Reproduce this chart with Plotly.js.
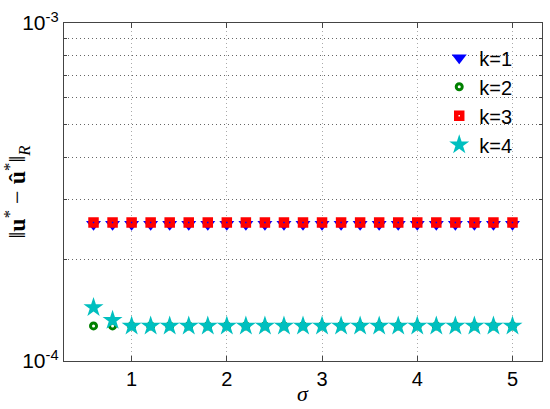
<!DOCTYPE html>
<html>
<head>
<meta charset="utf-8">
<script src="https://cdn.plot.ly/plotly-3.0.1.min.js"></script>
<style>html,body{margin:0;padding:0;background:#fff;}#chart{width:550px;height:409px;}</style>
</head>
<body>
<div id="chart"></div>
<script>
const sigma = [0.6, 0.8, 1.0, 1.2, 1.4, 1.6, 1.8, 2.0, 2.2, 2.4, 2.6, 2.8, 3.0, 3.2, 3.4, 3.6, 3.8, 4.0, 4.2, 4.4, 4.6, 4.8, 5.0];
const errK1 = [2.54e-4, 2.54e-4, 2.54e-4, 2.54e-4, 2.54e-4, 2.54e-4, 2.54e-4, 2.54e-4, 2.54e-4, 2.54e-4, 2.54e-4, 2.54e-4, 2.54e-4, 2.54e-4, 2.54e-4, 2.54e-4, 2.54e-4, 2.54e-4, 2.54e-4, 2.54e-4, 2.54e-4, 2.54e-4, 2.54e-4];
const errK2 = [1.27e-4, 1.27e-4, 1.27e-4, 1.27e-4, 1.27e-4, 1.27e-4, 1.27e-4, 1.27e-4, 1.27e-4, 1.27e-4, 1.27e-4, 1.27e-4, 1.27e-4, 1.27e-4, 1.27e-4, 1.27e-4, 1.27e-4, 1.27e-4, 1.27e-4, 1.27e-4, 1.27e-4, 1.27e-4, 1.27e-4];
const errK3 = [2.57e-4, 2.57e-4, 2.57e-4, 2.57e-4, 2.57e-4, 2.57e-4, 2.57e-4, 2.57e-4, 2.57e-4, 2.57e-4, 2.57e-4, 2.57e-4, 2.57e-4, 2.57e-4, 2.57e-4, 2.57e-4, 2.57e-4, 2.57e-4, 2.57e-4, 2.57e-4, 2.57e-4, 2.57e-4, 2.57e-4];
const errK4 = [1.44e-4, 1.32e-4, 1.27e-4, 1.27e-4, 1.27e-4, 1.27e-4, 1.27e-4, 1.27e-4, 1.27e-4, 1.27e-4, 1.27e-4, 1.27e-4, 1.27e-4, 1.27e-4, 1.27e-4, 1.27e-4, 1.27e-4, 1.27e-4, 1.27e-4, 1.27e-4, 1.27e-4, 1.27e-4, 1.27e-4];
const seriesNames = ['k=1', 'k=2', 'k=3', 'k=4'];
const xTickVals = [1, 2, 3, 4, 5];
const yTickVals = [1e-4, 1e-3];
const yTickText = ['10<sup>-4</sup>', '10<sup>-3</sup>'];
const yMinorVals = [2e-4, 3e-4, 4e-4, 5e-4, 6e-4, 7e-4, 8e-4, 9e-4];
const xTitle = '<i>σ</i>';
const yTitle = '‖<b>u</b><sup>*</sup> − <b>û</b><sup>*</sup>‖<sub><i>R</i></sub>';

const traces = [
  {x: sigma, y: errK1, name: seriesNames[0], legendgroup: 'a', mode: 'markers', type: 'scatter',
   marker: {symbol: 'triangle-down', size: 13, color: '#0000ff', line: {width: 0}}},
  {x: sigma, y: errK2, name: seriesNames[1], legendgroup: 'b', mode: 'markers', type: 'scatter',
   marker: {symbol: 'circle-open', size: 6, color: '#008000', line: {width: 3, color: '#008000'}}},
  {x: sigma, y: errK3, name: seriesNames[2], legendgroup: 'c', mode: 'markers', type: 'scatter',
   marker: {symbol: 'square-open', size: 6, color: '#ff0000', line: {width: 4.5, color: '#ff0000'}}},
  {x: sigma, y: errK4, name: seriesNames[3], legendgroup: 'd', mode: 'markers', type: 'scatter',
   marker: {symbol: 'star', size: 15, color: '#00bfbf', line: {width: 0}}}
];

const dots = '1px,3px';
const layout = {
  width: 550, height: 409,
  margin: {l: 64, r: 8, t: 23, b: 48, pad: 0},
  paper_bgcolor: '#fff', plot_bgcolor: '#fff',
  font: {family: 'Liberation Sans, Arial, sans-serif', color: '#000', size: 19},
  showlegend: true,
  legend: {x: 0.785, y: 0.955, xanchor: 'left', yanchor: 'top', bgcolor: 'rgba(0,0,0,0)',
           borderwidth: 0, font: {size: 20, family: 'Liberation Sans, Arial, sans-serif'}, tracegroupgap: 0},
  annotations: [
    {text: xTitle, xref: 'paper', yref: 'paper', x: 0.5, y: -0.095, xanchor: 'center', yanchor: 'middle',
     showarrow: false, font: {family: 'Liberation Serif, DejaVu Serif, serif', size: 22}}
  ],
  xaxis: {
    range: [0.29, 5.31], tickvals: xTickVals, ticktext: xTickVals.map(String),
    ticks: 'inside', ticklen: 5, tickcolor: '#444', mirror: 'ticks',
    showline: true, linecolor: '#444', linewidth: 1.2, zeroline: false,
    showgrid: true, gridcolor: '#aaa', griddash: dots, gridwidth: 1,
    tickfont: {size: 20}
  },
  yaxis: {
    type: 'log', range: [-4, -3], tickvals: yTickVals, ticktext: yTickText,
    ticks: 'inside', ticklen: 5, tickcolor: '#444', mirror: 'ticks',
    showline: true, linecolor: '#444', linewidth: 1.2, zeroline: false,
    showgrid: false,
    minor: {tickmode: 'array', tickvals: yMinorVals, ticks: 'inside', ticklen: 3, tickcolor: '#444',
            showgrid: true, gridcolor: '#666', griddash: dots, gridwidth: 1},
    tickfont: {size: 21},
    title: {text: yTitle, font: {family: 'Liberation Serif, DejaVu Serif, serif', size: 24}, standoff: 2}
  }
};

Plotly.newPlot('chart', traces, layout, {displayModeBar: false, staticPlot: true});
</script>
</body>
</html>
